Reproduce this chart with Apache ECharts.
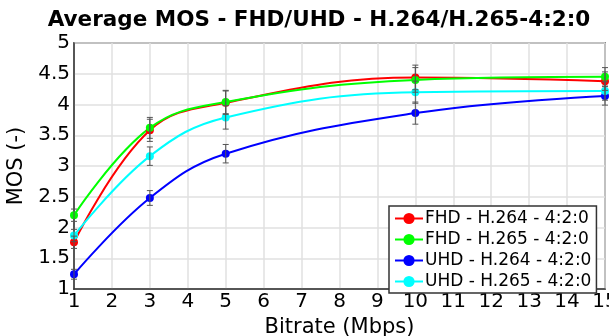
<!DOCTYPE html>
<html><head><meta charset="utf-8">
<script src="https://cdn.jsdelivr.net/npm/echarts@6/dist/echarts.min.js"></script>
<style>html,body{margin:0;padding:0;background:#fff}#c{width:609px;height:336px}</style>
</head><body><div id="c"></div>
<script>
const bitrates = [1, 3, 5, 10, 15];
const seriesNames = ['FHD - H.264 - 4:2:0', 'FHD - H.265 - 4:2:0', 'UHD - H.264 - 4:2:0', 'UHD - H.265 - 4:2:0'];
const fhd264 = [1.76, 3.58, 4.03, 4.44, 4.38];
const fhd265 = [2.20, 3.62, 4.04, 4.40, 4.45];
const uhd264 = [1.24, 2.48, 3.20, 3.86, 4.14];
const uhd265 = [1.87, 3.16, 3.79, 4.20, 4.22];
const fhd264Err = [0.10, 0.18, 0.19, 0.20, 0.15];
const fhd265Err = [0.10, 0.17, 0.19, 0.20, 0.15];
const uhd264Err = [0.08, 0.12, 0.15, 0.18, 0.15];
const uhd265Err = [0.10, 0.15, 0.19, 0.18, 0.15];
const colors = ['#ff0000', '#00ff00', '#0000ff', '#00ffff'];
const yTicks = [1, 5, 0.5];
const xTicks = [1, 15, 1];

const values = [fhd264, fhd265, uhd264, uhd265];
const errs = [fhd264Err, fhd265Err, uhd264Err, uhd265Err];
const FONT = 'DejaVu Sans';

const series = [];
values.forEach((v, i) => {
  series.push({
    name: seriesNames[i], type: 'line', smooth: 0.4,
    data: bitrates.map((x, j) => [x, v[j]]),
    symbol: 'circle', symbolSize: 8,
    lineStyle: { color: colors[i], width: 2 },
    itemStyle: { color: colors[i] },
    z: 3
  });
});
values.forEach((v, i) => {
  series.push({
    type: 'custom', name: 'err' + i, z: 4,
    data: bitrates.map((x, j) => [x, v[j] - errs[i][j], v[j] + errs[i][j]]),
    renderItem: function (params, api) {
      const x = api.value(0);
      const lo = api.coord([x, api.value(1)]);
      const hi = api.coord([x, api.value(2)]);
      const w = 3;
      const st = { stroke: '#555', lineWidth: 1 };
      return { type: 'group', children: [
        { type: 'line', shape: { x1: lo[0], y1: lo[1], x2: hi[0], y2: hi[1] }, style: st },
        { type: 'line', shape: { x1: lo[0] - w, y1: lo[1], x2: lo[0] + w, y2: lo[1] }, style: st },
        { type: 'line', shape: { x1: hi[0] - w, y1: hi[1], x2: hi[0] + w, y2: hi[1] }, style: st }
      ]};
    },
    encode: { x: 0, y: [1, 2] },
    silent: true
  });
});

const chart = echarts.init(document.getElementById('c'));
chart.setOption({
  animation: false,
  title: { text: 'Average MOS - FHD/UHD - H.264/H.265-4:2:0', left: 314, textAlign: 'center', top: 4,
    textStyle: { fontFamily: FONT, fontWeight: 'bold', fontSize: 21.5, color: '#000' } },
  grid: { left: 74, right: 4, top: 43, bottom: 47, show: true, borderColor: '#333', borderWidth: 1.5,
    containLabel: false, outerBoundsMode: 'none' },
  xAxis: { type: 'value', min: xTicks[0], max: xTicks[1], interval: xTicks[2],
    name: 'Bitrate (Mbps)', nameLocation: 'middle', nameGap: 23,
    nameTextStyle: { fontFamily: FONT, fontSize: 21, color: '#000' },
    axisLine: { show: true, lineStyle: { color: '#333', width: 1.5 } },
    axisTick: { show: false },
    axisLabel: { fontFamily: FONT, fontSize: 20, color: '#000', margin: 3 },
    splitLine: { show: true, lineStyle: { color: '#e0e0e0', width: 1.5 } } },
  yAxis: { type: 'value', min: yTicks[0], max: yTicks[1], interval: yTicks[2],
    name: 'MOS (-)', nameLocation: 'middle', nameGap: 45,
    nameTextStyle: { fontFamily: FONT, fontSize: 21, color: '#000' },
    axisLine: { show: true, lineStyle: { color: '#333', width: 1.5 } },
    axisTick: { show: false },
    axisLabel: { fontFamily: FONT, fontSize: 20, color: '#000', margin: 4 },
    splitLine: { show: true, lineStyle: { color: '#e0e0e0', width: 1.5 } } },
  legend: {
    data: seriesNames, orient: 'vertical', left: 389, top: 206,
    backgroundColor: '#fff', borderColor: '#333', borderWidth: 1.5,
    padding: [4, 5, 3, 5], itemGap: 4, itemWidth: 28, itemHeight: 14,
    textStyle: { fontFamily: FONT, fontSize: 17, color: '#000', padding: [0, 0, 0, -3] }
  },
  series: series
});
</script></body></html>
